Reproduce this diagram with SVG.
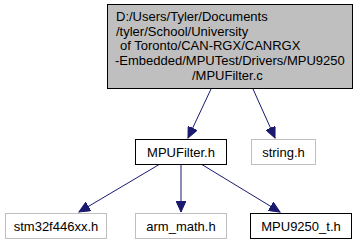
<svg xmlns="http://www.w3.org/2000/svg" width="363" height="245" viewBox="0 0 363 245">
  <style>
    .node rect { stroke-width: 1; }
    .main { fill: #bfbfbf; stroke: #000000; }
    .doc { fill: #ffffff; stroke: #000000; }
    .ext { fill: #ffffff; stroke: #bfbfbf; }
    text { font-family: "Liberation Sans", Arial, sans-serif; font-size: 13px; fill: #000000; }
    .edge { stroke: #191970; stroke-width: 1; fill: none; marker-end: url(#arrow); }
  </style>
  <defs>
    <marker id="arrow" markerUnits="userSpaceOnUse" markerWidth="12" markerHeight="10" viewBox="0 0 12 10" refX="11" refY="5" orient="auto">
      <path d="M0,0 L11,5 L0,10 Z" fill="#191970" stroke="#191970"/>
    </marker>
  </defs>

  <g id="connectors">
    <line class="edge" x1="211" y1="89" x2="188" y2="138"/>
    <line class="edge" x1="253" y1="89" x2="275" y2="138"/>
    <line class="edge" x1="160" y1="164" x2="79" y2="212"/>
    <line class="edge" x1="181" y1="164" x2="181" y2="212"/>
    <line class="edge" x1="201" y1="164" x2="280" y2="212"/>
  </g>

  <g id="node-mpufilter-c" class="node">
    <rect class="main" x="107.5" y="4.5" width="245" height="84"/>
    <text x="116" y="21">D:/Users/Tyler/Documents</text>
    <text x="116" y="35.5">/tyler/School/University</text>
    <text x="120" y="50">of Toronto/CAN-RGX/CANRGX</text>
    <text x="115" y="65">-Embedded/MPUTest/Drivers/MPU9250</text>
    <text x="192" y="79.5">/MPUFilter.c</text>
  </g>

  <g id="node-mpufilter-h" class="node">
    <rect class="doc" x="135.5" y="139.5" width="91" height="25"/>
    <text x="181" y="156.5" text-anchor="middle">MPUFilter.h</text>
  </g>

  <g id="node-string-h" class="node">
    <rect class="ext" x="251.5" y="139.5" width="64" height="25"/>
    <text x="283.5" y="156.5" text-anchor="middle">string.h</text>
  </g>

  <g id="node-stm32f446xx-h" class="node">
    <rect class="ext" x="5.5" y="213.5" width="101" height="25"/>
    <text x="56" y="230.5" text-anchor="middle">stm32f446xx.h</text>
  </g>

  <g id="node-arm-math-h" class="node">
    <rect class="ext" x="135.5" y="213.5" width="91" height="25"/>
    <text x="181" y="230.5" text-anchor="middle">arm_math.h</text>
  </g>

  <g id="node-mpu9250-t-h" class="node">
    <rect class="doc" x="250.5" y="213.5" width="101" height="25"/>
    <text x="301" y="230.5" text-anchor="middle">MPU9250_t.h</text>
  </g>
</svg>
